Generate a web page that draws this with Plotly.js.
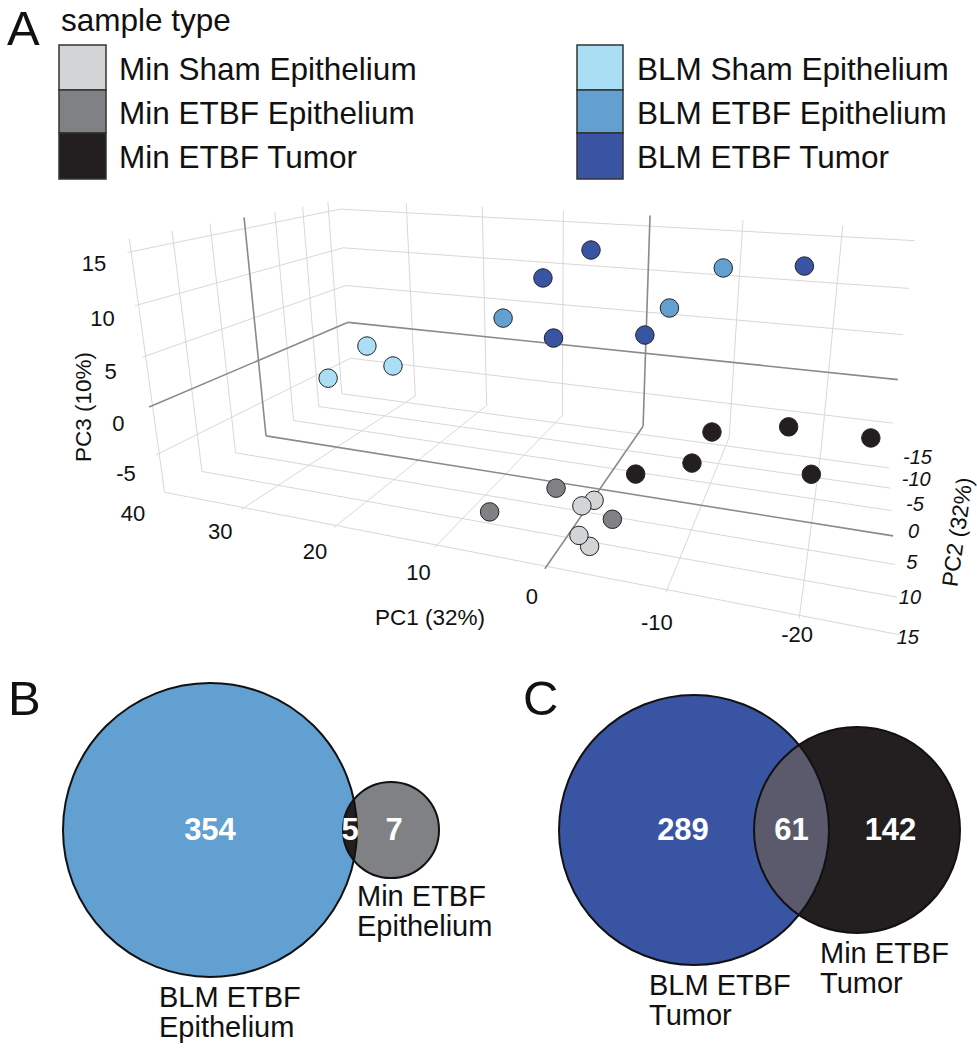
<!DOCTYPE html>
<html><head><meta charset="utf-8">
<script src="https://cdn.plot.ly/plotly-3.0.1.min.js"></script>
<style>html,body{margin:0;padding:0;background:#fff}#chart{width:977px;height:1050px}</style>
</head><body><div id="chart"></div>
<script>
// ---------- DATA ----------
const sampleTypes = ['Min Sham Epithelium','Min ETBF Epithelium','Min ETBF Tumor','BLM Sham Epithelium','BLM ETBF Epithelium','BLM ETBF Tumor'];
const typeColors = ['#d3d4d6','#7f8184','#231f20','#a9def5','#62a0d1','#3a54a4'];

const minShamPC1 = [-1.4, -0.7, -2.3, -2.7];
const minShamPC2 = [6.5, 7.9, 13.6, 11.9];
const minShamPC3 = [-7, -7, -6.6, -8.5];
const minEtbfEpiPC1 = [6.5, 1.3, -4.4];
const minEtbfEpiPC2 = [11.7, 9.1, 11.1];
const minEtbfEpiPC3 = [-7, -5, -6];
const minEtbfTumPC1 = [-10.4, -16.9, -24.6, -9.6, -6.0, -19.6];
const minEtbfTumPC2 = [-1.3, -7.6, -9.9, 4.1, 10.0, 0.7];
const minEtbfTumPC3 = [-2, -3, -4, -3, -2, -4];
const blmShamPC1 = [23.9, 19.7, 23.4];
const blmShamPC2 = [2.3, 4.5, 9.8];
const blmShamPC3 = [4, 3, 3];
const blmEtbfEpiPC1 = [8.1, -4.4, -9.1];
const blmEtbfEpiPC2 = [4.4, -8.6, -11.5];
const blmEtbfEpiPC3 = [9, 8, 12];
const blmEtbfTumPC1 = [3.1, 7.7, 3.9, -2.9, -16.7];
const blmEtbfTumPC2 = [-6.0, -4.8, 2.6, -4.7, -15.5];
const blmEtbfTumPC3 = [14, 11, 7, 6, 12];

const pc1Ticks = [-20, -10, 0, 10, 20, 30, 40];
const pc2Ticks = [-15, -10, -5, 0, 5, 10, 15];
const pc3Ticks = [-5, 0, 5, 10, 15];

const vennBLabels = [['BLM ETBF','Epithelium'], ['Min ETBF','Epithelium']];
const vennBCounts = [354, 5, 7];
const vennCLabels = [['BLM ETBF','Tumor'], ['Min ETBF','Tumor']];
const vennCCounts = [289, 61, 142];

// ---------- VIEW: perspective camera fitted to the 3D box landmarks (screen px) ----------
const ext = {XMIN: -26.9, XMAX: 39.3, YMIN: -17.5, YMAX: 15.4, ZMIN: -9.2, ZMAX: 16.2};
function landmarks(e) {
  return [
    [e.XMAX,0,0,259,360],[e.XMAX,e.YMIN,0,347,322],[e.XMAX,0,e.ZMIN,267,433],[e.XMAX,0,e.ZMAX,243,218],
    [0,e.YMIN,e.ZMAX,651,215],[0,e.YMIN,0,645,354],[0,e.YMIN,e.ZMIN,643,427],[0,0,e.ZMIN,602,489],
    [e.XMIN,0,e.ZMIN,895,536],[e.XMIN,e.YMIN,0,898,380],[e.XMAX,e.YMAX,0,147,408],[0,e.YMAX,e.ZMIN,547,573],
    [-10,e.YMIN,0,733,363],[-20,e.YMIN,0,830,373],[0,e.YMIN,5,645,311],[0,e.YMIN,10,647,268],
    [0,e.YMIN,15,650,224],[0,e.YMIN,-5,644,393],[e.XMIN,-15,e.ZMIN,888,468],[e.XMIN,-10,e.ZMIN,890,489],
    [e.XMIN,-5,e.ZMIN,892,511],[e.XMIN,5,e.ZMIN,895,566],[e.XMIN,10,e.ZMIN,896,599],[e.XMIN,15,e.ZMIN,896,633],
    [-20,e.YMAX,e.ZMIN,800,613],[e.XMAX,e.YMIN,-5,350,358],[e.XMAX,e.YMIN,15,343,212]
  ];
}
function solveLin(A, b) {
  const n = b.length, M = A.map((r, i) => r.concat([b[i]]));
  for (let c = 0; c < n; c++) {
    let p = c; for (let r = c + 1; r < n; r++) if (Math.abs(M[r][c]) > Math.abs(M[p][c])) p = r;
    [M[c], M[p]] = [M[p], M[c]];
    for (let r = 0; r < n; r++) if (r !== c) { const f = M[r][c] / M[c][c]; for (let k = c; k <= n; k++) M[r][k] -= f * M[c][k]; }
  }
  return M.map((r, i) => r[n] / r[i]);
}
function project(P, X, Y, Z) {
  const x = X / 20, y = Y / 20, z = Z / 20;
  const w = P[8] * x + P[9] * y + P[10] * z + 1;
  return [((P[0] * x + P[1] * y + P[2] * z + P[3]) / w) * 300 + 500, ((P[4] * x + P[5] * y + P[6] * z + P[7]) / w) * 300 + 400, w];
}
function fitView(L) {
  const A = [], b = [];
  L.forEach(([X, Y, Z, u, v]) => {
    const x = X / 20, y = Y / 20, z = Z / 20, un = (u - 500) / 300, vn = (v - 400) / 300;
    A.push([x, y, z, 1, 0, 0, 0, 0, -un * x, -un * y, -un * z]); b.push(un);
    A.push([0, 0, 0, 0, x, y, z, 1, -vn * x, -vn * y, -vn * z]); b.push(vn);
  });
  const N = [], t = [];
  for (let i = 0; i < 11; i++) { N.push([]); t.push(0);
    for (let j = 0; j < 11; j++) { let s = 0; for (let k = 0; k < A.length; k++) s += A[k][i] * A[k][j]; N[i].push(s); }
    for (let k = 0; k < A.length; k++) t[i] += A[k][i] * b[k]; }
  return solveLin(N, t);
}
const P = fitView(landmarks(ext));
const {XMIN, XMAX, YMIN, YMAX, ZMIN, ZMAX} = ext;

// ---------- BUILD ----------
const FONT = 'Arial, "Liberation Sans", Helvetica, sans-serif';
const W = 977, H = 1050;
const traces = [];

// grid on the three back planes
const gx = [], gy = [], zx = [], zy = [];
const inX = t => t >= XMIN && t <= XMAX, inY = t => t >= YMIN && t <= YMAX, inZ = t => t >= ZMIN && t <= ZMAX;
function seg(a, b, isZero) {
  const p = project(P, ...a), q = project(P, ...b);
  const X = isZero ? zx : gx, Y = isZero ? zy : gy;
  X.push(p[0], q[0], null); Y.push(p[1], q[1], null);
}
pc2Ticks.filter(inY).forEach(t => seg([XMAX, t, ZMIN], [XMAX, t, ZMAX], t === 0));
pc3Ticks.filter(inZ).forEach(t => seg([XMAX, YMIN, t], [XMAX, YMAX, t], t === 0));
pc1Ticks.filter(inX).forEach(t => seg([t, YMIN, ZMIN], [t, YMIN, ZMAX], t === 0));
pc3Ticks.filter(inZ).forEach(t => seg([XMIN, YMIN, t], [XMAX, YMIN, t], t === 0));
pc1Ticks.filter(inX).forEach(t => seg([t, YMIN, ZMIN], [t, YMAX, ZMIN], t === 0));
pc2Ticks.filter(inY).forEach(t => seg([XMIN, t, ZMIN], [XMAX, t, ZMIN], t === 0));
traces.push({type: 'scatter', mode: 'lines', x: gx, y: gy, line: {color: '#d8d8d8', width: 1}, hoverinfo: 'skip', cliponaxis: false});
traces.push({type: 'scatter', mode: 'lines', x: zx, y: zy, line: {color: '#8a8a8a', width: 1.6}, hoverinfo: 'skip', cliponaxis: false});

// tick labels
function labelTrace(ticks, fn, style, size) {
  const pts = ticks.map(fn);
  return {type: 'scatter', mode: 'text', x: pts.map(p => p[0]), y: pts.map(p => p[1]),
    text: ticks.map(String), textposition: 'middle center', hoverinfo: 'skip', cliponaxis: false,
    textfont: {family: FONT, size: size || 22, color: '#111', style: style || 'normal'}};
}
const clamp01 = v => Math.max(0, Math.min(1, v));
traces.push(labelTrace(pc1Ticks, t => { const s = clamp01((t + 20) / 10); return project(P, t, YMAX + 1.3 + 1.6 * s, ZMIN - 0.7 - 0.3 * s); }));
traces.push(labelTrace(pc2Ticks, t => project(P, XMIN - (1.6 - t / 15), t, ZMIN + 0.6 - 0.85 * t / 15), 'italic', 20));
traces.push(labelTrace(pc3Ticks, t => project(P, XMAX, YMAX + 3.6, t - 0.5)));

// samples, drawn far to near
const groups = [
  [minShamPC1, minShamPC2, minShamPC3], [minEtbfEpiPC1, minEtbfEpiPC2, minEtbfEpiPC3],
  [minEtbfTumPC1, minEtbfTumPC2, minEtbfTumPC3], [blmShamPC1, blmShamPC2, blmShamPC3],
  [blmEtbfEpiPC1, blmEtbfEpiPC2, blmEtbfEpiPC3], [blmEtbfTumPC1, blmEtbfTumPC2, blmEtbfTumPC3]
];
const pts = [];
groups.forEach((g, i) => g[0].forEach((v, k) => {
  const q = project(P, g[0][k], g[1][k], g[2][k]);
  pts.push({u: q[0], v: q[1], w: q[2], c: typeColors[i], n: sampleTypes[i]});
}));
pts.sort((a, b) => b.w - a.w);
traces.push({type: 'scatter', mode: 'markers', x: pts.map(p => p.u), y: pts.map(p => p.v), text: pts.map(p => p.n),
  marker: {size: 18.5, color: pts.map(p => p.c), line: {color: '#232323', width: 1}}, hoverinfo: 'text', cliponaxis: false});

const layout = {
  width: W, height: H, margin: {l: 0, r: 0, t: 0, b: 0},
  paper_bgcolor: '#fff', plot_bgcolor: '#fff', showlegend: false, font: {family: FONT},
  xaxis: {domain: [0, 1], range: [0, W], visible: false, fixedrange: true},
  yaxis: {domain: [0, 1], range: [H, 0], visible: false, fixedrange: true},
  shapes: [], annotations: []
};
const ann = (x, y, text, size, extra) => layout.annotations.push(Object.assign({xref: 'x', yref: 'y', x, y, text,
  showarrow: false, xanchor: 'center', yanchor: 'middle', font: {family: FONT, size, color: '#111'}}, extra || {}));

ann(430, 617, 'PC1 (32%)', 22.5);
ann(83, 407, 'PC3 (10%)', 22.5, {textangle: -90});
ann(957, 532, 'PC2 (32%)', 22.5, {textangle: -82});

// legend
const legendCols = [{x0: 59, x1: 106, tx: 117}, {x0: 577, x1: 623, tx: 635}];
const rowEdges = [45, 90, 133, 179];
sampleTypes.forEach((name, i) => {
  const c = legendCols[Math.floor(i / 3)], r = i % 3;
  layout.shapes.push({type: 'rect', xref: 'x', yref: 'y', x0: c.x0, x1: c.x1, y0: rowEdges[r], y1: rowEdges[r + 1],
    fillcolor: typeColors[i], line: {color: '#333', width: 1.5}});
  ann(c.tx, (rowEdges[r] + rowEdges[r + 1]) / 2 + 1, name, 31.5, {xanchor: 'left'});
});
ann(59, 20, 'sample type', 31.5, {xanchor: 'left'});
[['A', 5, 28], ['B', 6, 698], ['C', 521, 698]].forEach(([t, x, y]) => ann(x, y, t, 49, {xanchor: 'left'}));

// Venn diagrams
function lensPath(c1, c2) {
  const d = c2.x - c1.x, a = (d * d + c1.r * c1.r - c2.r * c2.r) / (2 * d), h = Math.sqrt(c1.r * c1.r - a * a);
  const phi = Math.atan2(h, a - d), psi = Math.atan2(h, a), p = [], n = 60;
  for (let k = 0; k <= n; k++) { const t = phi + (2 * Math.PI - 2 * phi) * k / n; p.push([c2.x + c2.r * Math.cos(t), c1.y + c2.r * Math.sin(t)]); }
  for (let k = 0; k <= n; k++) { const t = -psi + 2 * psi * k / n; p.push([c1.x + c1.r * Math.cos(t), c1.y + c1.r * Math.sin(t)]); }
  return 'M' + p.map(q => q[0].toFixed(2) + ',' + q[1].toFixed(2)).join('L') + 'Z';
}
const venns = [
  {c1: {x: 210, y: 830, r: 147}, c2: {x: 391, y: 830, r: 48}, fills: ['#62a0d1', '#7f8184', '#231f1f'],
   counts: vennBCounts, labels: vennBLabels, labelPos: [[157, 997], [355, 896]], leftShift: 0},
  {c1: {x: 694, y: 830, r: 135}, c2: {x: 857, y: 830, r: 103}, fills: ['#3a54a4', '#231f20', '#5b5a6d'],
   counts: vennCCounts, labels: vennCLabels, labelPos: [[647, 985], [818, 953]], leftShift: -11}
];
const tX = [], tY = [], tT = [];
venns.forEach(v => {
  const {c1, c2} = v;
  const circ = (c, fill, line) => ({type: 'circle', xref: 'x', yref: 'y', layer: 'below',
    x0: c.x - c.r, x1: c.x + c.r, y0: c.y - c.r, y1: c.y + c.r, fillcolor: fill, line: line});
  layout.shapes.push(circ(c1, v.fills[0], {width: 0}), circ(c2, v.fills[1], {width: 0}));
  layout.shapes.push({type: 'path', xref: 'x', yref: 'y', layer: 'below', path: lensPath(c1, c2), fillcolor: v.fills[2], line: {width: 0}});
  [c1, c2].forEach(c => layout.shapes.push(circ(c, 'rgba(0,0,0,0)', {color: '#111', width: 2})));
  tX.push(c1.x + v.leftShift, (c2.x - c2.r + c1.x + c1.r) / 2, (c1.x + c1.r + c2.x + c2.r) / 2 - 4);
  tY.push(c1.y + 2, c1.y + 2, c1.y + 2);
  tT.push(...v.counts.map(String));
  v.labels.forEach((lines, i) => lines.forEach((ln, j) => ann(v.labelPos[i][0], v.labelPos[i][1] + j * 30, ln, 29, {xanchor: 'left'})));
});
traces.push({type: 'scatter', mode: 'text', x: tX, y: tY, text: tT, textposition: 'middle center',
  textfont: {family: FONT, size: 31, color: '#fff', weight: 'bold'}, hoverinfo: 'skip', cliponaxis: false});

Plotly.newPlot('chart', traces, layout, {displayModeBar: false, staticPlot: true});
</script>
</body></html>
